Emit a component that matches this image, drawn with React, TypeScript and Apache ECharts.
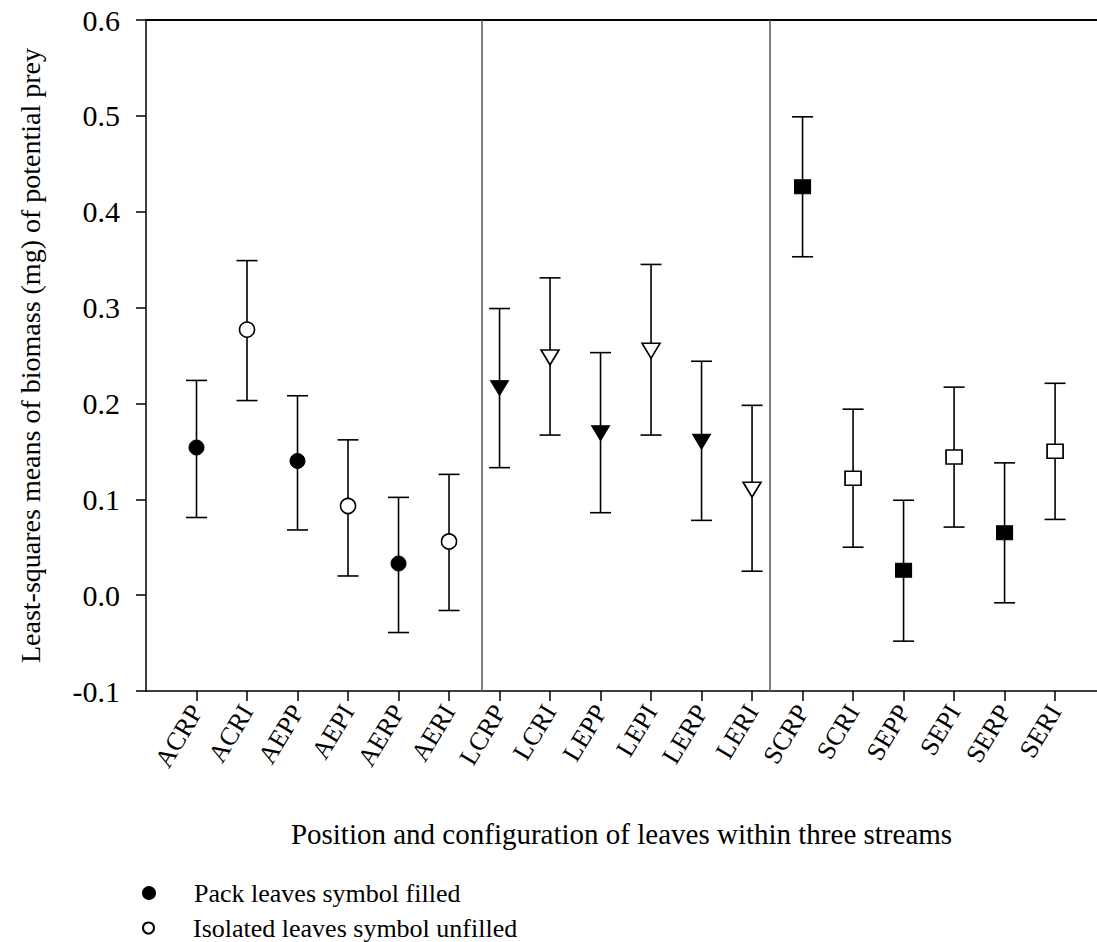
import React, { useEffect, useRef } from "react";
import * as echarts from "echarts";

const categories = [
  "ACRP", "ACRI", "AEPP", "AEPI", "AERP", "AERI",
  "LCRP", "LCRI", "LEPP", "LEPI", "LERP", "LERI",
  "SCRP", "SCRI", "SEPP", "SEPI", "SERP", "SERI",
];
const means = [
  0.154, 0.277, 0.140, 0.093, 0.033, 0.056,
  0.216, 0.248, 0.169, 0.255, 0.160, 0.110,
  0.426, 0.122, 0.026, 0.144, 0.065, 0.150,
];
const lower = [
  0.081, 0.203, 0.068, 0.020, -0.039, -0.016,
  0.133, 0.167, 0.086, 0.167, 0.078, 0.025,
  0.353, 0.050, -0.048, 0.071, -0.008, 0.079,
];
const upper = [
  0.224, 0.349, 0.208, 0.162, 0.102, 0.126,
  0.299, 0.331, 0.253, 0.345, 0.244, 0.198,
  0.499, 0.194, 0.099, 0.217, 0.138, 0.221,
];
// true = pack leaves (filled symbol), false = isolated leaves (open symbol)
const packLeaves = [
  true, false, true, false, true, false,
  true, false, true, false, true, false,
  true, false, true, false, true, false,
];
// stream of each category: A, L, S
const streams = ["A", "A", "A", "A", "A", "A", "L", "L", "L", "L", "L", "L", "S", "S", "S", "S", "S", "S"];
const groupBoundaries = [6.65, 12.35];
const legendNames = ["Pack leaves symbol filled", "Isolated leaves symbol unfilled"];

const FONT = "Liberation Serif, Times New Roman, serif";

function symbolFor(stream: string) {
  if (stream === "A") return { symbol: "circle", symbolSize: 15, symbolRotate: 0 };
  if (stream === "L") return { symbol: "triangle", symbolSize: [18, 15], symbolRotate: 180 };
  return { symbol: "rect", symbolSize: [16, 14], symbolRotate: 0 };
}

export default function App() {
  const ref = useRef<HTMLDivElement>(null);
  useEffect(() => {
    if (!ref.current) return;
    const chart = echarts.init(ref.current, undefined, { renderer: "svg" });
    const xPos = categories.map((_, i) => i + 1);
    const filledData: any[] = [];
    const openData: any[] = [];
    categories.forEach((c, i) => {
      const s = symbolFor(streams[i]);
      const item = { name: c, value: [xPos[i], means[i]], ...s };
      if (packLeaves[i]) filledData.push(item);
      else openData.push(item);
    });
    const errData = categories.map((_, i) => [xPos[i], lower[i], upper[i]]);

    const legendBase = {
      orient: "horizontal",
      left: 142,
      padding: 0,
      itemWidth: 12,
      itemHeight: 12,
      icon: "circle",
      textStyle: { fontFamily: FONT, fontSize: 26, color: "#000", lineHeight: 30, padding: [0, 0, 0, 34] },
    };

    const option: any = {
      animation: false,
      textStyle: { fontFamily: FONT, color: "#000" },
      grid: { left: 146, right: 0, top: 20, bottom: 251, containLabel: false, show: false },
      legend: [
        { ...legendBase, top: 878, data: [legendNames[0]] },
        { ...legendBase, top: 913, itemWidth: 11, itemHeight: 11, data: [legendNames[1]] },
      ],
      xAxis: [
        {
          type: "value",
          min: 0,
          max: 18.83,
          interval: 1,
          name: "Position and configuration of leaves within three streams",
          nameLocation: "middle",
          nameGap: 128,
          nameTextStyle: { fontFamily: FONT, fontSize: 29, color: "#000" },
          splitLine: { show: false },
          axisLine: { show: true, onZero: false, lineStyle: { color: "#000", width: 1.5 } },
          axisTick: { show: true, length: 10, inside: false, customValues: xPos, lineStyle: { color: "#000", width: 1.5 } },
          axisLabel: {
            show: true,
            customValues: xPos,
            rotate: 59,
            margin: 16,
            fontFamily: FONT,
            fontSize: 26,
            color: "#000",
            formatter: (v: number) => categories[Math.round(v) - 1] ?? "",
          },
        },
        {
          type: "value",
          position: "top",
          min: 0,
          max: 18.83,
          axisLine: { show: true, onZero: false, lineStyle: { color: "#000", width: 2 } },
          axisTick: { show: false },
          axisLabel: { show: false },
          splitLine: { show: false },
        },
      ],
      yAxis: {
        type: "value",
        min: -0.1,
        max: 0.6,
        interval: 0.1,
        name: "Least-squares means of biomass (mg) of potential prey",
        nameLocation: "middle",
        nameGap: 102,
        nameRotate: 90,
        nameTextStyle: { fontFamily: FONT, fontSize: 28, color: "#000" },
        splitLine: { show: false },
        axisLine: { show: true, onZero: false, lineStyle: { color: "#000", width: 1.5 } },
        axisTick: { show: true, length: 10, inside: false, lineStyle: { color: "#000", width: 1.5 } },
        axisLabel: {
          margin: 26,
          fontFamily: FONT,
          fontSize: 30,
          color: "#000",
          formatter: (v: number) => (Math.abs(v) < 1e-9 ? "0.0" : v.toFixed(1)),
        },
      },
      series: [
        {
          type: "custom",
          name: "error",
          xAxisIndex: 0,
          z: 2,
          data: errData,
          renderItem: (params: any, api: any) => {
            const x = api.value(0);
            const lo = api.coord([x, api.value(1)]);
            const hi = api.coord([x, api.value(2)]);
            const hw = 10.5;
            const style = { stroke: "#000", lineWidth: 1.6 };
            return {
              type: "group",
              children: [
                { type: "line", shape: { x1: lo[0], y1: lo[1], x2: hi[0], y2: hi[1] }, style },
                { type: "line", shape: { x1: lo[0] - hw, y1: lo[1], x2: lo[0] + hw, y2: lo[1] }, style },
                { type: "line", shape: { x1: hi[0] - hw, y1: hi[1], x2: hi[0] + hw, y2: hi[1] }, style },
              ],
            };
          },
          markLine: {
            silent: true,
            symbol: "none",
            label: { show: false },
            lineStyle: { color: "#555", width: 1.5, type: "solid" },
            data: groupBoundaries.map((b) => ({ xAxis: b })),
          },
        },
        {
          type: "scatter",
          name: legendNames[0],
          xAxisIndex: 0,
          z: 5,
          itemStyle: { color: "#000", borderColor: "#000", borderWidth: 1, opacity: 1 },
          data: filledData,
        },
        {
          type: "scatter",
          name: legendNames[1],
          xAxisIndex: 0,
          z: 5,
          itemStyle: { color: "#fff", borderColor: "#000", borderWidth: 1.6, opacity: 1 },
          data: openData,
        },
      ],
    };
    chart.setOption(option);
    return () => chart.dispose();
  }, []);
  return (
    <div
      ref={ref}
      style={{ position: "absolute", left: 0, top: 0, width: 1097, height: 942, background: "#fff" }}
    />
  );
}
